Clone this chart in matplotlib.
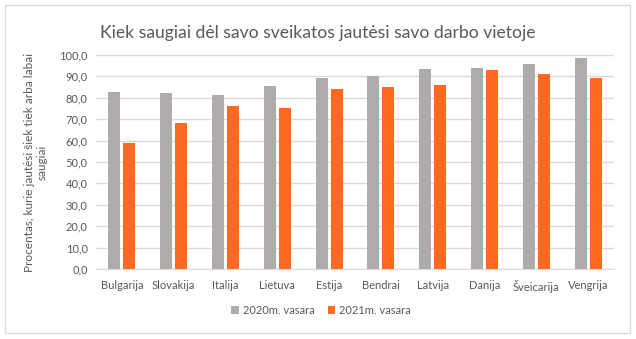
import matplotlib.pyplot as plt
import numpy as np
from matplotlib.patches import Rectangle

countries = ['Bulgarija', 'Slovakija', 'Italija', 'Lietuva', 'Estija',
             'Bendrai', 'Latvija', 'Danija', 'Šveicarija', 'Vengrija']
v2020 = [82.7, 82.2, 81.3, 85.5, 89.3, 90.2, 93.5, 93.9, 95.8, 98.6]
v2021 = [58.9, 68.2, 76.2, 75.2, 84.1, 85.0, 86.0, 93.0, 91.1, 89.3]
yticks = np.arange(0, 101, 10)

plt.rcParams['font.family'] = ['Lato', 'DejaVu Sans']
gray = '#AFABAB'
orange = '#FF6A20'
text_col = '#595959'

fig = plt.figure(figsize=(6.36, 3.39), dpi=100)
ax = fig.add_axes([96 / 636, 1 - 269 / 339, 518 / 636, 214 / 339])

x = np.arange(len(countries))
w = 0.23
ax.bar(x - w / 2 - 0.03, v2020, w, color=gray, label='2020m. vasara', zorder=3)
ax.bar(x + w / 2 + 0.03, v2021, w, color=orange, label='2021m. vasara', zorder=3)

ax.set_xlim(-0.5, len(countries) - 0.5)
ax.set_ylim(0, 100)
ax.set_yticks(yticks)
ax.set_yticklabels([f'{t:.1f}'.replace('.', ',') for t in yticks])
ax.set_xticks(x)
ax.set_xticklabels(countries)
ax.tick_params(axis='both', length=0, labelsize=8, colors=text_col)
ax.tick_params(axis='x', pad=8)
ax.tick_params(axis='y', pad=6)
ax.grid(axis='y', color='#D9D9D9', linewidth=1, zorder=0)
for s in ['top', 'right', 'left']:
    ax.spines[s].set_visible(False)
ax.spines['bottom'].set_color('#D9D9D9')

ax.set_ylabel('Procentas, kurie jautėsi šiek tiek arba labai\nsaugiai',
              fontsize=8.5, color=text_col, labelpad=8)

fig.text(318 / 636, 1 - 33 / 339,
         'Kiek saugiai dėl savo sveikatos jautėsi savo darbo vietoje',
         ha='center', va='center', fontsize=12.6, color=text_col)

fig.legend(loc='center', bbox_to_anchor=(321 / 636, 1 - 310 / 339),
           ncol=2, frameon=False, fontsize=8, handlelength=0.7, handleheight=0.7,
           handletextpad=0.3, columnspacing=1.2, labelcolor=text_col)

fig.patches.append(Rectangle((5 / 636, 1 - 333 / 339), 625 / 636, 328 / 339,
                             transform=fig.transFigure, fill=False,
                             edgecolor='#D9D9D9', linewidth=1))

fig.savefig('out.png', dpi=100)
